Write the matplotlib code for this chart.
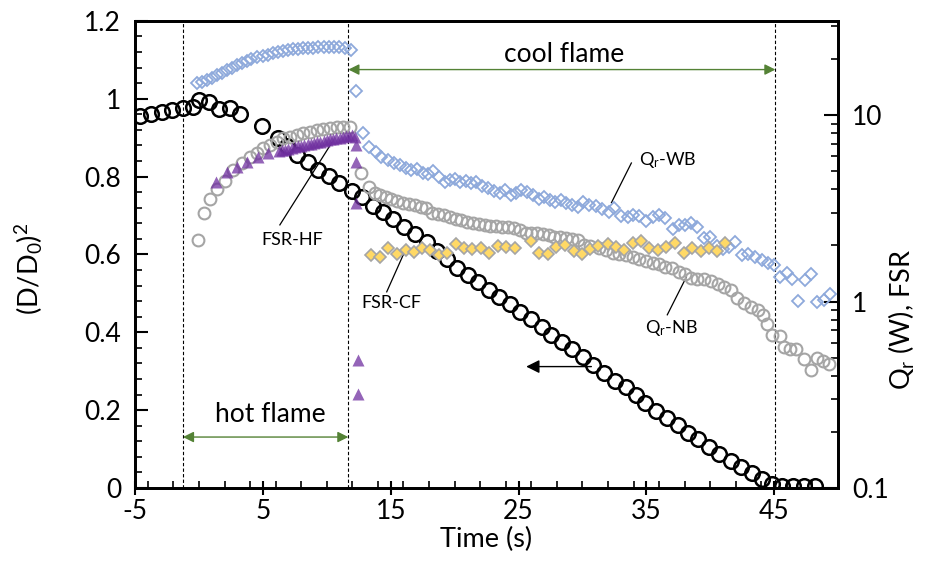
import matplotlib
matplotlib.use("Agg")
import matplotlib.pyplot as plt
from matplotlib.ticker import FixedLocator, MultipleLocator, NullFormatter

plt.rcParams['font.family'] = ['Lato', 'DejaVu Sans']
plt.rcParams['mathtext.fontset'] = 'custom'
plt.rcParams['mathtext.rm'] = 'Lato'
plt.rcParams['mathtext.it'] = 'Lato:italic'

# (D/D0)^2 - left axis
t_d = [-4.6, -3.75, -2.9, -2.1, -1.25, -0.47, 0.0, 0.78, 1.56, 2.42,
       3.2, 4.9, 6.17, 6.9, 7.66, 8.52, 9.30, 10.16, 10.94, 11.95,
       12.73, 13.59, 14.38, 15.16, 16.02, 16.88, 17.81, 18.59, 19.38, 20.16,
       21.02, 21.80, 22.66, 23.44, 24.30, 25.08, 25.94, 26.80, 27.58, 28.44,
       29.22, 30.08, 30.86, 31.72, 32.58, 33.44, 34.2, 34.92, 35.78, 36.64,
       37.50, 38.28, 39.06, 39.92, 40.70, 41.64, 42.42, 43.28, 44.06, 44.84,
       45.63, 46.48, 47.34, 48.20]
d2 = [0.956, 0.961, 0.967, 0.972, 0.977, 0.979, 0.997, 0.992, 0.974, 0.977,
      0.961, 0.931, 0.900, 0.878, 0.856, 0.838, 0.818, 0.801, 0.783, 0.762,
      0.747, 0.724, 0.709, 0.690, 0.670, 0.652, 0.632, 0.609, 0.589, 0.566,
      0.548, 0.530, 0.509, 0.491, 0.473, 0.452, 0.434, 0.414, 0.393, 0.375,
      0.357, 0.337, 0.316, 0.296, 0.275, 0.260, 0.239, 0.219, 0.198, 0.180,
      0.162, 0.141, 0.126, 0.105, 0.087, 0.069, 0.054, 0.039, 0.023, 0.010,
      0.005, 0.006, 0.006, 0.006]

# Qr-WB (right axis, W)
t_wb = [-0.18, 0.21, 0.60, 0.99, 1.38, 1.77, 2.16, 2.55, 2.94, 3.33,
        3.72, 4.11, 4.55, 4.98, 5.37, 5.76, 6.20, 6.59, 6.98, 7.37,
        7.76, 8.15, 8.54, 8.93, 9.32, 9.77, 10.18, 10.57, 10.96, 11.41,
        11.93,
        12.32, 12.84, 13.31, 13.83, 14.27, 14.79, 15.23, 15.70, 16.17, 16.62,
        17.05, 17.52, 17.92, 18.31, 18.77, 19.22, 19.61, 20.0, 20.45, 20.86,
        21.25, 21.70, 22.16, 22.60, 23.05, 23.52, 23.96, 24.43, 24.82, 25.21,
        25.65, 26.12, 26.59, 27.03, 27.48, 27.89, 28.33, 28.72, 29.20, 29.63,
        30.05, 30.55, 31.07, 31.54, 32.06, 32.5, 33.02, 33.54, 33.98, 34.45,
        34.97, 35.49, 36.02, 36.48, 37.05, 37.52, 38.05, 38.49, 39.0, 39.53,
        40.0, 40.52, 41.02, 41.48, 41.95, 42.48, 42.99, 43.52, 44.04, 44.55,
        45.0, 45.47, 45.99, 46.43, 46.9, 47.42, 47.86, 48.38, 48.91, 49.35]
q_wb = [14.8, 15.1, 15.4, 15.8, 16.4, 16.9, 17.4, 18.0, 18.5, 19.1,
        19.5, 20.0, 20.4, 20.7, 21.1, 21.4, 21.7, 22.0, 22.3, 22.5,
        22.7, 22.8, 23.0, 23.0, 23.1, 23.2, 23.2, 23.2, 23.1, 22.8,
        22.3,
        13.4, 8.04, 6.71, 6.36, 5.97, 5.74, 5.55, 5.39, 5.18, 5.07,
        5.12, 4.91, 4.83, 5.03, 4.63, 4.39, 4.48, 4.52, 4.39, 4.44,
        4.30, 4.39, 4.16, 4.05, 3.93, 3.83, 3.96, 3.72, 3.80, 3.96,
        3.88, 3.72, 3.53, 3.65, 3.50, 3.43, 3.50, 3.39, 3.29, 3.20,
        3.40, 3.29, 3.27, 3.12, 3.03, 3.18, 2.87, 2.83, 2.91, 2.87,
        2.71, 2.85, 2.91, 2.79, 2.44, 2.57, 2.57, 2.63, 2.52, 2.18,
        2.23, 1.99, 1.91, 1.97, 2.09, 1.78, 1.80, 1.73, 1.67, 1.61,
        1.58, 1.36, 1.42, 1.32, 1.01, 1.30, 1.40, 1.0, 1.02, 1.10]

# Qr-NB (right axis, W)
t_nb = [-0.08, 0.39, 0.86, 1.43, 2.03, 2.66, 3.36, 3.98, 4.53, 5.0,
        5.55, 6.09, 6.56, 7.11, 7.66, 8.13, 8.67, 9.22, 9.69, 10.23,
        10.78, 11.25, 11.8,
        12.71, 13.30, 13.75, 14.14, 14.61, 15.05, 15.49, 15.96, 16.43, 16.88,
        17.34, 17.79, 18.26, 18.70, 19.14, 19.61, 20.08, 20.52, 20.96, 21.43,
        21.90, 22.34, 22.79, 23.26, 23.73, 24.16, 24.61, 25.08, 25.55, 25.99,
        26.43, 26.90, 27.37, 27.81, 28.26, 28.73, 29.16, 29.63, 30.16, 30.60,
        31.33, 31.85, 32.37, 32.89, 33.41, 33.93, 34.45, 34.98, 35.49, 35.96,
        36.48, 37.0, 37.52, 38.05, 38.49, 39.0, 39.53, 40.05, 40.57, 41.09,
        41.62, 42.13, 42.66, 43.18, 43.70, 44.09, 44.48, 44.87, 45.45, 45.78,
        46.23, 46.74, 47.34, 47.86, 48.38, 48.83, 49.30]
q_nb = [2.14, 2.97, 3.53, 4.0, 4.44, 5.07, 5.53, 5.96, 6.25, 6.65,
        6.90, 7.16, 7.53, 7.62, 7.81, 8.0, 8.11, 8.31, 8.41, 8.51,
        8.63, 8.63, 8.63,
        4.87, 4.13, 3.83, 3.72, 3.62, 3.53, 3.46, 3.39, 3.33, 3.29,
        3.22, 3.16, 2.97, 2.94, 2.91, 2.85, 2.76, 2.74, 2.68, 2.63,
        2.60, 2.57, 2.54, 2.54, 2.52, 2.50, 2.47, 2.42, 2.34, 2.32,
        2.32, 2.29, 2.27, 2.23, 2.21, 2.18, 2.16, 2.14, 2.01, 1.98,
        1.93, 1.89, 1.83, 1.80, 1.78, 1.73, 1.69, 1.66, 1.61, 1.59,
        1.53, 1.52, 1.44, 1.40, 1.33, 1.32, 1.32, 1.29, 1.24, 1.19,
        1.15, 1.05, 0.98, 0.94, 0.90, 0.85, 0.76, 0.66, 0.65, 0.57,
        0.56, 0.56, 0.49, 0.43, 0.50, 0.48, 0.46]

# FSR-HF (hot flame)
t_hf = [1.33, 2.16, 2.95, 3.73, 4.63, 5.41,
        6.25, 6.5, 6.75, 7.0, 7.25, 7.5, 7.75, 8.0, 8.25, 8.5,
        8.75, 9.0, 9.25, 9.5, 9.75, 10.0, 10.25, 10.5, 10.75, 11.0,
        11.25, 11.5, 11.75, 12.0, 12.2,
        12.32, 12.32, 12.32, 12.45, 12.45]
fsr_hf = [4.39, 4.97, 5.28, 5.62, 5.98, 6.23,
          6.40, 6.46, 6.53, 6.60, 6.66, 6.72, 6.80, 6.86, 6.91, 6.98,
          7.03, 7.08, 7.14, 7.19, 7.26, 7.33, 7.40, 7.46, 7.52, 7.58,
          7.64, 7.70, 7.76, 7.80, 7.6,
          6.90, 5.62, 3.36, 0.485, 0.32]

# FSR-CF (cool flame)
t_cf = [13.49, 14.14, 14.79, 15.49, 16.17, 16.80, 17.48, 18.10, 18.77, 19.40,
        20.08, 20.70, 21.38, 22.03, 22.73, 23.38, 24.04, 24.69, 25.99, 26.64,
        27.29, 27.94, 28.67, 29.38, 29.98, 30.60, 31.20, 31.98, 32.63, 33.28,
        33.93, 34.59, 35.23, 35.88, 36.54, 37.27, 37.97, 38.57, 39.27, 39.87,
        40.52, 41.17]
fsr_cf = [1.78, 1.74, 1.93, 1.81, 1.89, 1.85, 1.94, 1.89, 1.78, 1.83,
          2.03, 1.93, 1.91, 1.94, 1.83, 1.98, 1.95, 1.94, 2.11, 1.83,
          1.80, 1.95, 2.01, 1.87, 1.81, 1.91, 1.98, 2.03, 1.95, 1.89,
          2.05, 2.11, 1.93, 1.89, 1.97, 2.07, 1.83, 1.94, 1.87, 1.93,
          1.87, 2.07]

x_ticks = [-5, 5, 15, 25, 35, 45]
y_ticks = [0, 0.2, 0.4, 0.6, 0.8, 1.0, 1.2]
y_ticklabels = ['0', '0.2', '0.4', '0.6', '0.8', '1', '1.2']

# flame transitions (s)
t_ignite = -1.25
t_hot_end = 11.69
t_cool_end = 45.1

green = '#548235'
fs = 19
fs_lab = 19.5

fig = plt.figure(figsize=(9.25, 5.81), dpi=100)
ax = fig.add_axes([0.146, 0.160, 0.760, 0.804])
ax2 = ax.twinx()

# left axis: droplet size
ax.plot(t_d, d2, 'o', ms=10.5, mfc='none', mec='black', mew=1.8, zorder=3)

for tv in (t_ignite, t_hot_end, t_cool_end):
    ax.axvline(tv, color='black', ls=(0, (3, 2)), lw=0.8, zorder=1)

ax.set_xlim(-5, 50)
ax.set_ylim(0, 1.2)
ax.xaxis.set_major_locator(FixedLocator(x_ticks))
ax.xaxis.set_minor_locator(MultipleLocator(2))
ax.yaxis.set_major_locator(FixedLocator(y_ticks))
ax.yaxis.set_minor_locator(MultipleLocator(0.04))
ax.set_xticklabels([str(v) for v in x_ticks])
ax.set_yticklabels(y_ticklabels)
ax.tick_params(axis='x', which='major', direction='inout', length=10, width=1.5,
               labelsize=fs, pad=3, top=False)
ax.tick_params(axis='x', which='minor', direction='in', length=5, width=1.2, top=False)
ax.tick_params(axis='y', which='major', direction='in', length=9, width=1.5,
               labelsize=fs, pad=10)
ax.tick_params(axis='y', which='minor', direction='in', length=5, width=1.2)
ax.set_xlabel('Time (s)', fontsize=fs_lab, labelpad=2)
ax.set_ylabel('(D/D$_0$)$^2$', fontsize=fs_lab)
ax.yaxis.set_label_coords(-0.128, 0.47)

# right axis: radiation and flame standoff ratio
ax2.set_yscale('log')
ax2.plot(t_nb, q_nb, 'o', ms=8.5, mfc='none', mec='#A5A5A5', mew=1.5, zorder=2)
ax2.plot(t_wb, q_wb, 'D', ms=5.8, mfc='none', mec='#8EA9DB', mew=1.3, zorder=3)
ax2.plot(t_cf, fsr_cf, 'D', ms=5.8, mfc='#FFD966', mec='#A5A5A5', mew=1.2, zorder=4)
ax2.plot(t_hf, fsr_hf, '^', ms=9, color='#7030A0', mec='none', alpha=0.75, zorder=4)
ax2.set_ylim(0.1, 32)
ax2.yaxis.set_major_locator(FixedLocator([0.1, 1, 10]))
ax2.set_yticklabels(['0.1', '1', '10'])
ax2.yaxis.set_minor_formatter(NullFormatter())
ax2.tick_params(axis='y', which='major', direction='in', length=10, width=1.5,
                labelsize=fs, pad=10)
ax2.tick_params(axis='y', which='minor', direction='in', length=5, width=1.2)
ax2.set_ylabel('Q$_\\mathrm{r}$ (W), FSR', fontsize=fs_lab)
ax2.yaxis.set_label_coords(1.07, 0.36)

for a in (ax, ax2):
    for sp in a.spines.values():
        sp.set_linewidth(2)

# flame period arrows
ax.annotate('', xy=(t_ignite, 0.131), xytext=(t_hot_end, 0.131),
            arrowprops=dict(arrowstyle='<|-|>', color=green, lw=1,
                            mutation_scale=16, shrinkA=0, shrinkB=0))
ax.text(5.55, 0.19, 'hot flame', fontsize=fs, ha='center', va='center')
ax.annotate('', xy=(t_hot_end, 1.075), xytext=(t_cool_end, 1.075),
            arrowprops=dict(arrowstyle='<|-|>', color=green, lw=1,
                            mutation_scale=16, shrinkA=0, shrinkB=0))
ax.text(28.6, 1.113, 'cool flame', fontsize=fs, ha='center', va='center')

# left-axis pointer
ax.annotate('', xy=(25.6, 0.312), xytext=(30.7, 0.312),
            arrowprops=dict(arrowstyle='-|>', color='black', lw=1,
                            mutation_scale=20, shrinkA=0, shrinkB=0))

# series labels
lbl = 13
ax.plot([6.33, 10.39], [0.676, 0.887], color='black', lw=0.9)
ax.text(7.27, 0.638, 'FSR-HF', fontsize=lbl, ha='center', va='center')
ax.plot([14.69, 16.09], [0.504, 0.607], color='black', lw=0.9)
ax.text(15.08, 0.476, 'FSR-CF', fontsize=lbl, ha='center', va='center')
ax.plot([32.27, 33.83], [0.733, 0.835], color='black', lw=0.9)
ax.text(34.4, 0.843, 'Q$_\\mathrm{r}$-WB', fontsize=lbl, ha='left', va='center')
ax.plot([38.13, 36.64], [0.542, 0.445], color='black', lw=0.9)
ax.text(34.9, 0.412, 'Q$_\\mathrm{r}$-NB', fontsize=lbl, ha='left', va='center')

fig.savefig('out.png', dpi=100)
